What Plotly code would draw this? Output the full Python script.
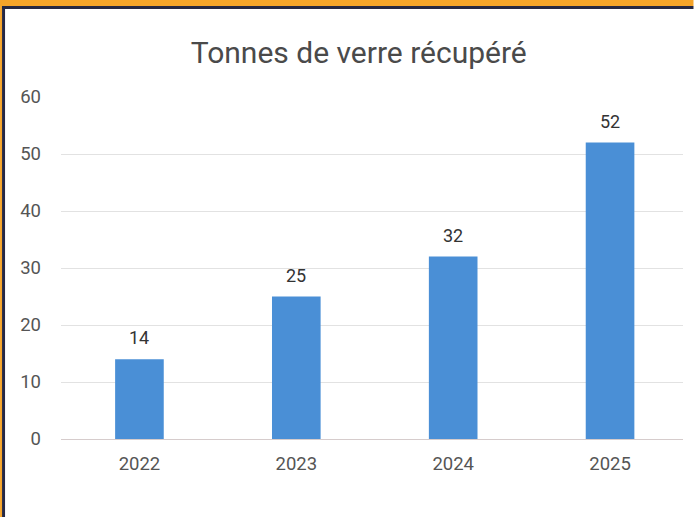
import plotly.graph_objects as go

years = ["2022", "2023", "2024", "2025"]
tonnes = [14, 25, 32, 52]
title_text = "Tonnes de verre récupéré"

W, H = 694, 517
L, R, T, B = 61, 694 - 683.5, 97, 517 - 439
PW, PH = W - L - R, H - T - B

def px(x):
    return (x - L) / PW

def py(y):
    return (H - B - y) / PH

fig = go.Figure()
fig.add_trace(go.Bar(
    x=years, y=tonnes, width=0.31,
    marker=dict(color="#4A8FD6", line=dict(width=0)),
    hoverinfo="x+y",
))

for i, v in enumerate(tonnes):
    fig.add_annotation(x=i, y=v, xref="x", yref="y", text=str(v), showarrow=False,
                       yanchor="bottom", yshift=9,
                       font=dict(family="Roboto", size=18, color="#333333"))

shapes = [
    dict(type="rect", xref="paper", yref="paper", x0=px(0), x1=px(W), y0=py(0), y1=py(6),
         fillcolor="#F5A42A", line=dict(width=0), layer="above"),
    dict(type="rect", xref="paper", yref="paper", x0=px(0), x1=px(2), y0=py(0), y1=py(H),
         fillcolor="#F5A42A", line=dict(width=0), layer="above"),
    dict(type="rect", xref="paper", yref="paper", x0=px(2), x1=px(W), y0=py(6), y1=py(9),
         fillcolor="#262843", line=dict(width=0), layer="above"),
    dict(type="rect", xref="paper", yref="paper", x0=px(2), x1=px(5), y0=py(6), y1=py(H),
         fillcolor="#262843", line=dict(width=0), layer="above"),
]

fig.update_layout(
    width=W, height=H,
    margin=dict(l=L, r=R, t=T, b=B, pad=0),
    paper_bgcolor="white", plot_bgcolor="white",
    showlegend=False,
    title=dict(text=title_text, x=px(359), xref="paper", xanchor="center",
               y=1 - 52 / H, yref="container", yanchor="middle",
               font=dict(family="Roboto", size=30, color="#4a4a4a")),
    xaxis=dict(type="category", range=[-0.5, 3.465], showgrid=False,
               showline=False, ticks="", ticklabelstandoff=11,
               tickfont=dict(family="Roboto", size=18.5, color="#555555")),
    yaxis=dict(range=[0, 60], dtick=10, showgrid=True, gridcolor="#e2e2e2",
               gridwidth=1, zeroline=True, zerolinecolor="#d6cccc", zerolinewidth=1,
               showline=False, ticks="", ticklabelstandoff=19,
               tickfont=dict(family="Roboto", size=18.5, color="#555555")),
    shapes=shapes,
)

fig.write_html("out.html", config={"displayModeBar": False},
               post_script="document.body.style.margin='0';document.body.style.overflow='hidden';")
